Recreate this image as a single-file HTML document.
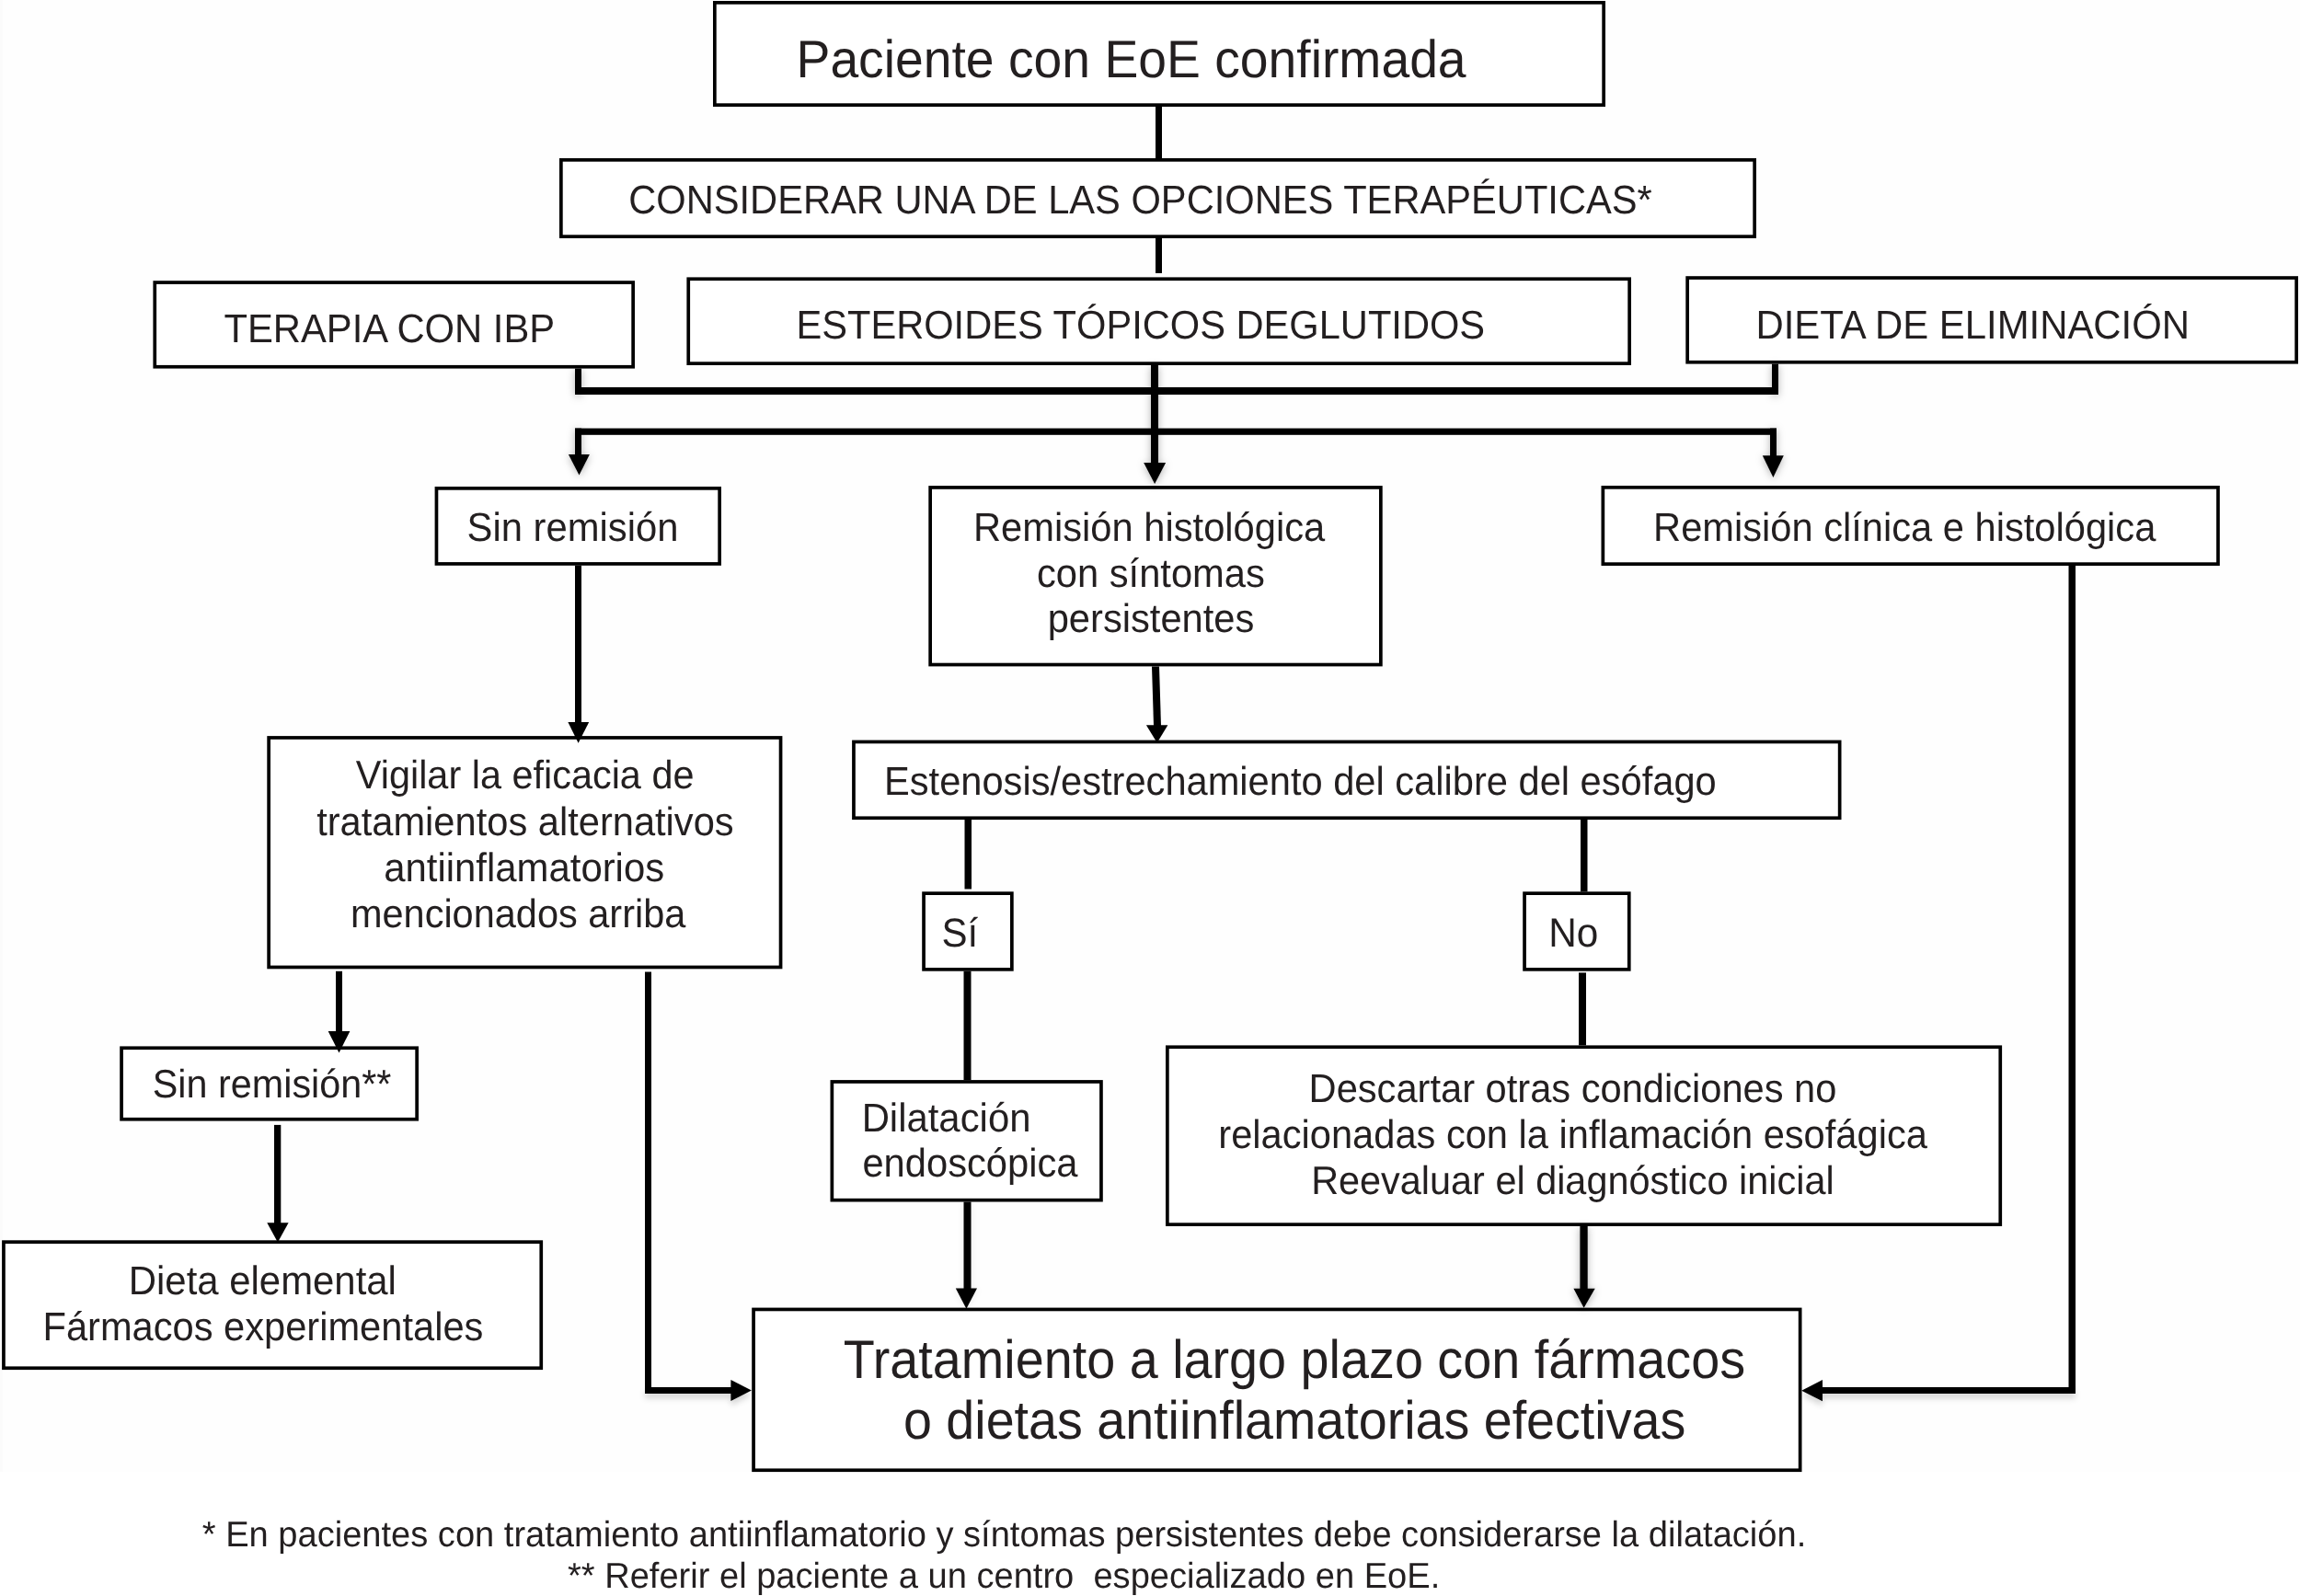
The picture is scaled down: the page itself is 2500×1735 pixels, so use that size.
<!DOCTYPE html><html><head><meta charset="utf-8"><title>EoE</title><style>html,body{margin:0;padding:0;background:#fff;}body{width:2500px;height:1735px;overflow:hidden;}svg{display:block;}text{font-family:"Liberation Sans",sans-serif;fill:#231f20;text-rendering:geometricPrecision;}</style></head><body>
<svg width="2500" height="1735" viewBox="0 0 2500 1735">
<defs><filter id="gl" x="-200%" y="-20%" width="500%" height="140%"><feDropShadow dx="0" dy="1.5" stdDeviation="4" flood-color="#000" flood-opacity="0.3"/></filter><filter id="fa" x="-200%" y="-20%" width="500%" height="140%"><feDropShadow dx="0" dy="1" stdDeviation="3.5" flood-color="#000" flood-opacity="0.08"/></filter><filter id="dr" x="-10%" y="-100%" width="120%" height="400%"><feDropShadow dx="0" dy="5" stdDeviation="3" flood-color="#000" flood-opacity="0.16"/></filter></defs>
<rect x="0" y="0" width="2500" height="1600" fill="#fefefe"/>
<rect x="0" y="0" width="3" height="1600" fill="#fbfbfb"/>
<g fill="#fff" stroke="#000" stroke-width="3.7">
<rect x="776.85" y="2.85" width="966.3" height="111.3"/>
<rect x="609.85" y="173.85" width="1297.3" height="83.3"/>
<rect x="168.25" y="307.05" width="519.9" height="91.7"/>
<rect x="748.25" y="303.25" width="1022.9" height="91.9"/>
<rect x="1834.15" y="302.05" width="662" height="91.7"/>
<rect x="474.45" y="530.85" width="307.7" height="82.1"/>
<rect x="1011.15" y="529.95" width="489.7" height="192.6"/>
<rect x="1742.35" y="529.85" width="668.6" height="83.3"/>
<rect x="292.15" y="801.95" width="556.4" height="249.5"/>
<rect x="927.95" y="806.45" width="1071.7" height="82.8"/>
<rect x="1004.05" y="971.15" width="95.8" height="82.7"/>
<rect x="1657.05" y="971.15" width="113.7" height="82.7"/>
<rect x="132.05" y="1139.25" width="321.1" height="77.5"/>
<rect x="904.35" y="1175.95" width="292.6" height="128.7"/>
<rect x="1268.85" y="1138.25" width="905.4" height="192.9"/>
<rect x="3.95" y="1350.15" width="584.3" height="137.1"/>
<rect x="819.05" y="1423.45" width="1137.6" height="174.8"/>
</g>
<g fill="#000" filter="url(#gl)">
<rect x="625" y="400.6" width="7" height="28.4"/>
<rect x="1251" y="397" width="8" height="108"/>
<rect x="1926" y="395.6" width="7" height="33.4"/>
<rect x="625" y="465.6" width="7" height="29.4"/>
<rect x="1924" y="465.6" width="7" height="30.4"/>
<rect x="1717.4" y="1333" width="8.3" height="69"/>
<polygon points="617.9,494 640.9,494 629.5,516.6"/>
<polygon points="1243.2,503.1 1267.1,503.1 1255.1,526"/>
<polygon points="1915.8,495.3 1938.8,495.3 1927.4,518.9"/>
<polygon points="1710.4,1400.7 1733.7,1400.7 1721.6,1421.8"/>
</g>
<g fill="#000" filter="url(#fa)">
<rect x="1047.5" y="1306.5" width="8" height="95.5"/>
<polygon points="1038.8,1400.6 1062,1400.6 1050.4,1422.8"/>
</g>
<g fill="#000" filter="url(#dr)">
<rect x="1981" y="1508" width="275" height="7"/>
<rect x="701" y="1508" width="94" height="7"/>
<polygon points="1981,1500 1981,1523.2 1958.2,1511.7"/>
<polygon points="794.4,1499.9 794.4,1523 816.9,1511.6"/>
</g>
<g fill="#000">
<rect x="1256" y="116" width="7" height="56"/>
<rect x="1256" y="259" width="7" height="38"/>
<rect x="625" y="614.8" width="7" height="171.2"/>
<rect x="2248.5" y="615" width="7.5" height="897"/>
<rect x="1048.5" y="891" width="7.5" height="75.5"/>
<rect x="1047.5" y="1055.7" width="8" height="118.4"/>
<rect x="1718" y="891" width="7.5" height="78.3"/>
<rect x="1716" y="1057.4" width="8" height="79"/>
<rect x="365" y="1055.8" width="7" height="66.2"/>
<rect x="298" y="1222.9" width="7.3" height="107.1"/>
<rect x="625" y="421" width="1308" height="8"/>
<rect x="625" y="465.6" width="1306" height="7.2"/>
<rect x="701" y="1056.5" width="7" height="455.5"/>
<polygon points="617.4,785 640.2,785 628.6,807.8"/>
<polygon points="1245.9,788.2 1269.4,788.2 1257.7,807.4"/>
<polygon points="356.7,1121 380.4,1121 368.5,1144.4"/>
<polygon points="290.3,1329.2 313.6,1329.2 301.9,1350.4"/>
<polygon points="1252,724.4 1260,724.4 1262,789 1254,789"/>
</g>
<g style="opacity:0.999">
<text transform="translate(865.515,83.7) scale(1,1.04)" font-size="55.286" xml:space="preserve">Paciente con EoE confirmada</text>
<text transform="translate(683.167,232.1) scale(1,1.045)" font-size="41.665" xml:space="preserve">CONSIDERAR UNA DE LAS OPCIONES TERAPÉUTICAS*</text>
<text transform="translate(243.392,371.7) scale(1,1.045)" font-size="41.781" xml:space="preserve">TERAPIA CON IBP</text>
<text transform="translate(865.466,367.6) scale(1,1.045)" font-size="41.634" xml:space="preserve">ESTEROIDES TÓPICOS DEGLUTIDOS</text>
<text transform="translate(1908.439,367.5) scale(1,1.045)" font-size="41.897" xml:space="preserve">DIETA DE ELIMINACIÓN</text>
<text transform="translate(507.624,587.9) scale(1,1.045)" font-size="41.798" xml:space="preserve">Sin remisión</text>
<text transform="translate(1057.921,587.7) scale(1,1.045)" font-size="41.696" xml:space="preserve">Remisión histológica</text>
<text transform="translate(1126.944,637.7) scale(1,1.045)" font-size="41.696" xml:space="preserve">con síntomas</text>
<text transform="translate(1138.626,687.4) scale(1,1.045)" font-size="41.696" xml:space="preserve">persistentes</text>
<text transform="translate(1797.08,588) scale(1,1.045)" font-size="41.654" xml:space="preserve">Remisión clínica e histológica</text>
<text transform="translate(386.849,857.4) scale(1,1.045)" font-size="41.432" xml:space="preserve">Vigilar la eficacia de</text>
<text transform="translate(344.159,907.5) scale(1,1.045)" font-size="41.648" xml:space="preserve">tratamientos alternativos</text>
<text transform="translate(417.248,957.9) scale(1,1.045)" font-size="41.89" xml:space="preserve">antiinflamatorios</text>
<text transform="translate(380.904,1008) scale(1,1.045)" font-size="41.512" xml:space="preserve">mencionados arriba</text>
<text transform="translate(961.018,864.3) scale(1,1.045)" font-size="41.63" xml:space="preserve">Estenosis/estrechamiento del calibre del esófago</text>
<text transform="translate(1023.578,1028.8) scale(1,1.045)" font-size="42.046" xml:space="preserve">Sí</text>
<text transform="translate(1683.136,1028.8) scale(1,1.045)" font-size="42.33" xml:space="preserve">No</text>
<text transform="translate(165.806,1193.5) scale(1,1.045)" font-size="41.339" xml:space="preserve">Sin remisión**</text>
<text transform="translate(936.63,1230) scale(1,1.045)" font-size="41.878" xml:space="preserve">Dilatación</text>
<text transform="translate(937.38,1279.4) scale(1,1.045)" font-size="41.717" xml:space="preserve">endoscópica</text>
<text transform="translate(1422.587,1198.2) scale(1,1.045)" font-size="41.632" xml:space="preserve">Descartar otras condiciones no</text>
<text transform="translate(1324.31,1248.2) scale(1,1.045)" font-size="41.641" xml:space="preserve">relacionadas con la inflamación esofágica</text>
<text transform="translate(1425.156,1298) scale(1,1.045)" font-size="41.426" xml:space="preserve">Reevaluar el diagnóstico inicial</text>
<text transform="translate(139.758,1406.7) scale(1,1.045)" font-size="41.912" xml:space="preserve">Dieta elemental</text>
<text transform="translate(46.471,1456.7) scale(1,1.045)" font-size="41.641" xml:space="preserve">Fármacos experimentales</text>
<text transform="translate(916.785,1498.3) scale(1,1.055)" font-size="55.751" xml:space="preserve">Tratamiento a largo plazo con fármacos</text>
<text transform="translate(981.964,1564.1) scale(1,1.055)" font-size="55.645" xml:space="preserve">o dietas antiinflamatorias efectivas</text>
<text transform="translate(219.834,1680.6) scale(1,1.025)" font-size="38.079" xml:space="preserve">* En pacientes con tratamiento antiinflamatorio y síntomas persistentes debe considerarse la dilatación.</text>
<text transform="translate(616.929,1725.6) scale(1,1.025)" font-size="38.081" xml:space="preserve">** Referir el paciente a un centro  especializado en EoE.</text>
</g>
</svg></body></html>
